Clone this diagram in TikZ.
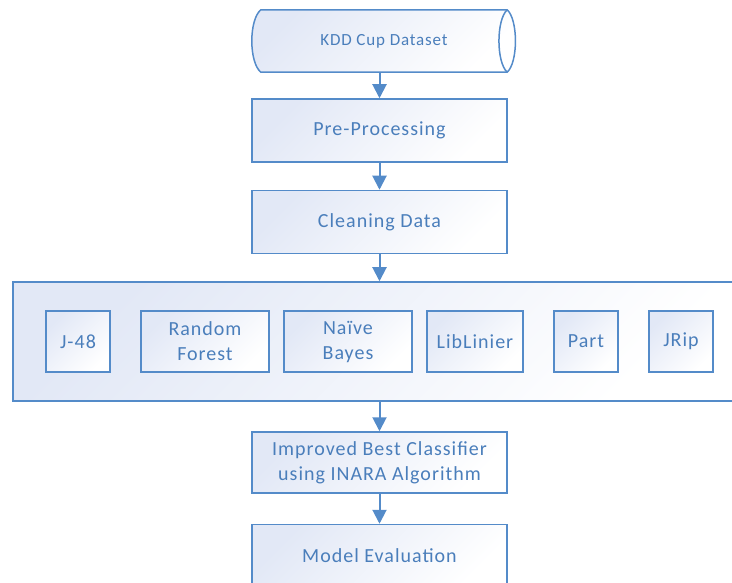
\documentclass[tikz,border=0pt]{standalone}
\usepackage{fontspec}
\setmainfont{Carlito}[LetterSpace=5]
\usetikzlibrary{positioning, arrows.meta, backgrounds}
\definecolor{lineblue}{RGB}{84,139,201}
\definecolor{textblue}{RGB}{74,126,187}
\definecolor{boxfill}{RGB}{226,232,246}

\begin{document}
\begin{tikzpicture}[
        x=1pt, y=-1pt,
        font=\fontsize{20}{25}\selectfont,
        shade/.style={
            draw=lineblue,
            line width=1.5pt,
            top color=boxfill,
            bottom color=white,
            shading angle=45
        },
        box/.style={
            shade,
            text=textblue,
            align=center,
            inner sep=2pt,
            minimum width=255pt,
            minimum height=63pt
        },
        alg/.style={box, minimum width=64pt, minimum height=61pt},
        flow/.style={draw=lineblue, line width=2pt, -{Triangle[width=14pt, length=14pt]}}
    ]
    \useasboundingbox (0,0) rectangle (732,583);
    \node[text=textblue, minimum width=246pt, minimum height=62pt, inner sep=0pt,
          font=\fontsize{17}{20}\selectfont] (kdd) at (384,41) {KDD Cup Dataset};
    \begin{scope}[on background layer]
        \path[shade] (kdd.north west) -- (kdd.north east)
            .. controls +(11,10) and +(11,-10) .. (kdd.south east)
            -- (kdd.south west)
            .. controls +(-12,-10) and +(-12,10) .. (kdd.north west) -- cycle;
        \draw[lineblue, line width=1.5pt] (kdd.north east)
            .. controls +(-11,10) and +(-11,-10) .. (kdd.south east);
    \end{scope}
    \node[box] (pre) at (379.5,130.5) {Pre-Processing};
    \node[box, below=27pt of pre] (clean) {Cleaning Data};
    \node[box, minimum width=720pt, minimum height=119pt] (models) at (373,341.5) {};
    \node[alg] (j48) at (78,341.5) {J-48};
    \node[alg, minimum width=128pt] (rf) at (205,341.5) {Random\\Forest};
    \node[alg, minimum width=128pt] (nb) at (348,341.5) {Naïve\\Bayes};
    \node[alg, minimum width=96pt] (ll) at (475,341.5) {LibLinier};
    \node[alg] (part) at (586,341.5) {Part};
    \node[alg] (jrip) at (681,341.5) {JRip};
    \node[box, minimum height=61pt] (inara) at (379.5,462.5) {Improved Best Classifier\\using INARA Algorithm};
    \node[box, below=30pt of inara] (eval) {Model Evaluation};

    \draw[flow] (kdd.south -| pre.north) -- (pre);
    \draw[flow] (pre) -- (clean);
    \draw[flow] (clean) -- (clean |- models.north);
    \draw[flow] (inara |- models.south) -- (inara);
    \draw[flow] (inara) -- (eval);
\end{tikzpicture}
\end{document}
